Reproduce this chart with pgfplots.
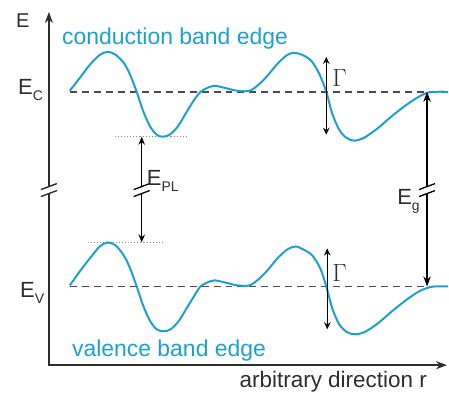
\documentclass[border=0pt]{standalone}
\usepackage{pgfplots}
\pgfplotsset{compat=1.18}
\usepackage{fontspec}
\setmainfont{Liberation Sans}
\usetikzlibrary{arrows.meta}
\definecolor{band}{RGB}{30,160,205}
\definecolor{axisgray}{RGB}{45,45,45}
\definecolor{dashgray}{RGB}{75,75,75}
\definecolor{dotgray}{RGB}{140,140,140}
\newcommand{\fs}[1]{\fontsize{#1}{#1}\selectfont}
\newcommand{\sub}[1]{\raisebox{-0.28em}{\fs{14}#1}}
\begin{document}
\begin{tikzpicture}
\begin{axis}[width=449pt,height=396pt,scale only axis,
  xmin=0,xmax=449,ymin=0,ymax=396,y dir=reverse,hide axis,clip=false]
\addplot[draw=none] coordinates {(0,0) (449,396)};
% reference levels
\addplot[dashgray,line width=1.6pt,dash pattern=on 7pt off 5pt] coordinates {(70,92) (449,92)};
\addplot[dashgray,line width=1.6pt,dash pattern=on 7pt off 5pt] coordinates {(70,287) (449,287)};
\addplot[dotgray,line width=1.1pt,dotted] coordinates {(115,137) (188,137)};
\addplot[dotgray,line width=1.1pt,dotted] coordinates {(88,243) (163,243)};
% band edges
\addplot[band,line width=2pt,smooth] coordinates {
(70,91) (80,78) (90,65) (100,55) (108,52) (116,55) (124,63) (130,74) (137,92) (143,110) (150,126) (157,135) (163,137) (170,135) (178,127) (186,114) (194,101) (201,92) (208,88) (215,86) (225,88) (238,91) (250,91) (259,85) (268,76) (278,64) (288,55) (295,53) (303,55) (312,61) (320,74) (327,92) (333,114) (340,130) (347,138) (355,141) (365,138) (378,129) (392,117) (406,106) (418,98) (428,93) (437,92) (449,92)};
\addplot[band,line width=2pt,smooth] coordinates {
(70,286) (80,272) (90,259) (100,247) (108,243) (116,246) (124,256) (130,268) (137,287) (143,305) (150,321) (157,330) (164,332) (171,330) (179,322) (187,309) (195,296) (201,287) (208,283) (215,281) (225,283) (238,286) (250,286) (259,280) (268,271) (278,259) (288,250) (296,247) (304,250) (313,256) (321,269) (327,287) (333,309) (340,325) (348,333) (357,335) (367,332) (380,323) (394,311) (408,300) (420,292) (430,288) (437,287) (449,287)};
% axes with break
\addplot[axisgray,line width=2pt,-{Stealth[length=11pt,width=8pt]}] coordinates {(49,187) (49,12)};
\addplot[axisgray,line width=2pt,line join=miter,-{Stealth[length=11pt,width=8pt]}] coordinates {(49,194) (49,366) (448,366)};
\addplot[axisgray,line width=1.4pt] coordinates {(41,190) (57,184)};
\addplot[axisgray,line width=1.4pt] coordinates {(41,197) (57,191)};
% E_PL arrow
\addplot[black,line width=1.4pt,-{Stealth[length=8pt,width=6.5pt]}] coordinates {(142,187) (142,137)};
\addplot[black,line width=1.4pt,-{Stealth[length=8pt,width=6.5pt]}] coordinates {(142,194) (142,243)};
\addplot[black,line width=1.3pt] coordinates {(134,190) (150,184)};
\addplot[black,line width=1.3pt] coordinates {(134,197) (150,191)};
% E_g arrow
\addplot[black,line width=1.4pt,-{Stealth[length=10pt,width=7.5pt]}] coordinates {(428,187) (428,92)};
\addplot[black,line width=1.4pt,-{Stealth[length=10pt,width=7.5pt]}] coordinates {(428,194) (428,287)};
\addplot[black,line width=1.3pt] coordinates {(420,190) (436,184)};
\addplot[black,line width=1.3pt] coordinates {(420,197) (436,191)};
% Gamma arrows
\addplot[black,line width=1.4pt,{Stealth[length=7pt,width=6.5pt]}-{Stealth[length=7pt,width=6.5pt]}] coordinates {(327,57) (327,135)};
\addplot[black,line width=1.4pt,{Stealth[length=7pt,width=6.5pt]}-{Stealth[length=7pt,width=6.5pt]}] coordinates {(328,249) (328,330)};
% labels
\node[anchor=base west,text=band,font=\fs{23},inner sep=0pt] at (axis cs:62,45) {conduction band edge};
\node[anchor=base west,text=band,font=\fs{23},inner sep=0pt] at (axis cs:72,357) {valence band edge};
\node[anchor=base west,text=axisgray,font=\fs{22.5},inner sep=0pt] at (axis cs:240,388) {arbitrary direction r};
\node[anchor=base west,text=axisgray,font=\fs{20},inner sep=0pt] at (axis cs:16,28) {E};
\node[anchor=base west,text=axisgray,font=\fs{22},inner sep=0pt] at (axis cs:18,95) {E\sub{C}};
\node[anchor=base west,text=axisgray,font=\fs{22},inner sep=0pt] at (axis cs:20,298) {E\sub{V}};
\node[anchor=base west,text=axisgray,font=\fs{22},inner sep=0pt] at (axis cs:147,186) {E\sub{PL}};
\node[anchor=base west,text=axisgray,font=\fs{22},inner sep=0pt] at (axis cs:398,205) {E\sub{g}};
\node[anchor=base west,text=axisgray,font=\fs{24},inner sep=0pt] at (axis cs:333,87) {$\Gamma$};
\node[anchor=base west,text=axisgray,font=\fs{24},inner sep=0pt] at (axis cs:333,282) {$\Gamma$};
\end{axis}
\end{tikzpicture}
\end{document}
